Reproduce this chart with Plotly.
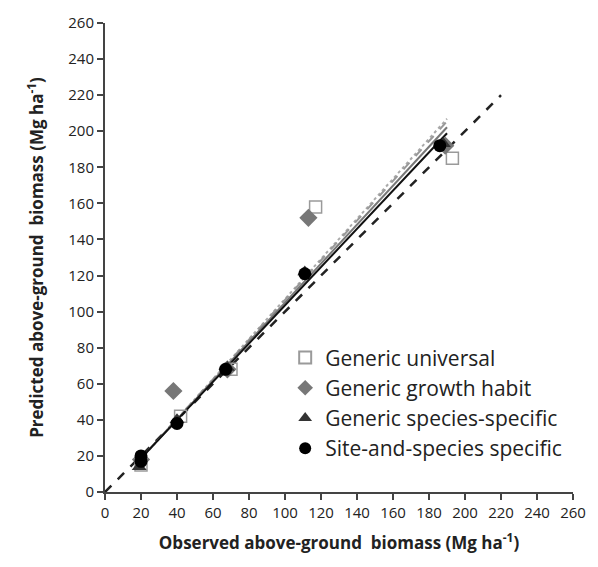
import plotly.graph_objects as go
import numpy as np

# Data
univ_x = [20, 42, 70, 117, 193]
univ_y = [15, 42, 68, 158, 185]
habit_x = [20, 38, 68, 113, 189]
habit_y = [18, 56, 68, 152, 192]
spec_x = [19, 40, 68, 111, 188]
spec_y = [14, 40, 69, 122, 193]
site_x = [20, 20, 40, 67, 111, 186]
site_y = [17, 20, 38, 68, 121, 192]

# regression lines: (slope, intercept) for each series
fit_range = [18, 190]
fit_univ = (1.11, -4.0)
fit_habit = (1.10, -3.5)
fit_spec = (1.08, -3.0)
fit_site = (1.06, -2.5)
one_to_one = [0, 220]

ticks = list(range(0, 261, 20))

fig = go.Figure()

def fit_line(p, color, dash, width):
    xs = np.array(fit_range, dtype=float)
    ys = p[0] * xs + p[1]
    fig.add_trace(go.Scatter(x=xs, y=ys, mode="lines", showlegend=False,
                             line=dict(color=color, dash=dash, width=width)))

fig.add_trace(go.Scatter(x=one_to_one, y=one_to_one, mode="lines", showlegend=False,
                         line=dict(color="#222", dash="dash", width=2.5)))
fit_line(fit_univ, "#aaaaaa", "dot", 2)
fit_line(fit_habit, "#999999", "dash", 2)
fit_line(fit_spec, "#777777", "solid", 2)
fit_line(fit_site, "#111111", "solid", 2)

fig.add_trace(go.Scatter(x=univ_x, y=univ_y, mode="markers", name="Generic universal",
                         marker=dict(symbol="square-open", size=12, color="#9a9a9a",
                                     line=dict(width=1.5, color="#9a9a9a"))))
fig.add_trace(go.Scatter(x=habit_x, y=habit_y, mode="markers", name="Generic growth habit",
                         marker=dict(symbol="diamond", size=14, color="#777777")))
fig.add_trace(go.Scatter(x=spec_x, y=spec_y, mode="markers", name="Generic species-specific",
                         marker=dict(symbol="triangle-up", size=13, color="#333333")))
fig.add_trace(go.Scatter(x=site_x, y=site_y, mode="markers", name="Site-and-species specific",
                         marker=dict(symbol="circle", size=13, color="#000000")))

axis_common = dict(range=[0, 260], tickvals=ticks, ticks="outside", ticklen=6,
                   tickwidth=1.5, tickcolor="#444", showline=True, linecolor="#444",
                   linewidth=2, showgrid=False, zeroline=False,
                   tickfont=dict(family="Open Sans", size=15, color="#222"))

fig.update_layout(
    width=598, height=567,
    margin=dict(l=105, r=18, t=20, b=75),
    plot_bgcolor="white", paper_bgcolor="white",
    font=dict(family="Open Sans", color="#222"),
    xaxis=dict(**axis_common,
               title=dict(text="<b>Observed above-ground  biomass (Mg ha<sup>-1</sup>)</b>",
                          font=dict(size=17), standoff=16)),
    yaxis=dict(**axis_common,
               title=dict(text="<b>Predicted above-ground  biomass (Mg ha<sup>-1</sup>)</b>",
                          font=dict(size=17), standoff=20)),
    legend=dict(x=0.385, y=0.33, xanchor="left", yanchor="top",
                font=dict(family="Open Sans", size=21, color="#222"),
                bgcolor="rgba(255,255,255,0)", itemsizing="constant",
                tracegroupgap=0),
    showlegend=True,
)

fig.write_html("out.html")
